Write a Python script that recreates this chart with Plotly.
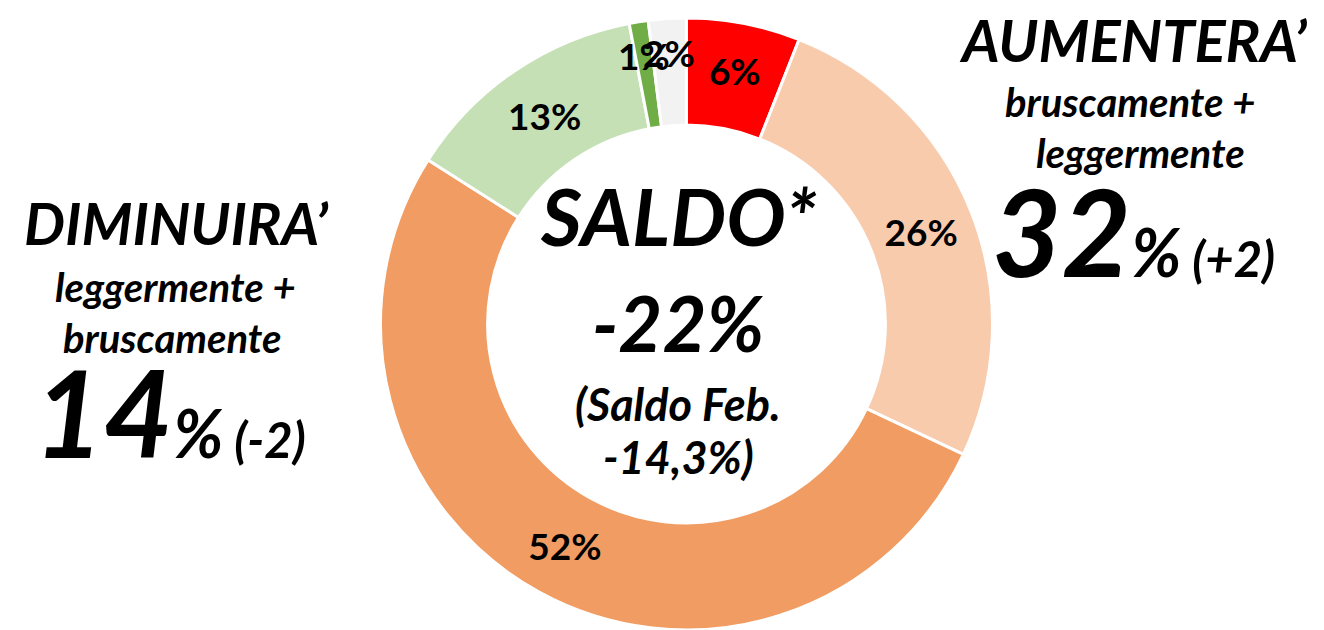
import math
import plotly.graph_objects as go

W, H = 1324, 630
MT, MB = 18, 0

categories = ["Aumenterà bruscamente", "Aumenterà leggermente", "Rimarrà stabile",
              "Diminuirà leggermente", "Diminuirà bruscamente", "Non sa"]
values = [6, 26, 52, 13, 1, 2]
slice_labels = ["6%", "26%", "52%", "13%", "1%", "2%"]
colors = ["#FF0000", "#F8CBAD", "#F19C62", "#C5E0B4", "#70AD47", "#F2F2F2"]

FONT = "Lato"
LABEL_SIZE = 37
SMALL = 3  # slices below this share get their label placed as annotation

def px(x):
    return x / W

def py(y):
    return (H - y) / (H - MT - MB)

cx = 686.5 / W
half = 0.30

inside_text = [t if v >= SMALL else "" for t, v in zip(slice_labels, values)]

fig = go.Figure()
fig.add_trace(go.Pie(
    labels=categories,
    values=values,
    text=inside_text,
    textinfo="text",
    textposition="inside",
    insidetextorientation="horizontal",
    sort=False,
    direction="clockwise",
    rotation=0,
    hole=0.65,
    marker=dict(colors=colors, line=dict(color="white", width=3)),
    textfont=dict(family=FONT, size=LABEL_SIZE, color="black", weight="bold"),
    domain=dict(x=[cx - half, cx + half], y=[0, 1]),
    showlegend=False,
))

# labels of the tiny slices, placed at each slice's mid-angle
plot_h = H - MT - MB
R = plot_h / 2
center_x, center_y = cx * W, MT + R  # pixels from top-left
total = sum(values)
cum = 0
for v, t in zip(values, slice_labels):
    mid = (cum + v / 2) / total * 2 * math.pi
    cum += v
    if v >= SMALL:
        continue
    r = 0.89 * R
    x = center_x + r * math.sin(mid)
    y = center_y - r * math.cos(mid)
    fig.add_annotation(
        x=px(x), y=py(y), xref="paper", yref="paper", text=t, showarrow=False,
        xanchor="center", yanchor="middle",
        font=dict(family=FONT, size=LABEL_SIZE, color="black", weight="bold"),
    )

def ann(x, y, text, size, anchor="center"):
    fig.add_annotation(
        x=px(x), y=py(y), xref="paper", yref="paper",
        text=text, showarrow=False, xanchor=anchor, yanchor="middle",
        font=dict(family=FONT, size=size, color="black", weight="bold", style="italic"),
    )

# centre
ann(678, 216, "SALDO*", 79)
ann(678, 322, "-22%", 76)
ann(678, 404, "(Saldo Feb.", 45)
ann(678, 457, "-14,3%)", 45)

# left block
ann(176, 222, "DIMINUIRA’", 58)
ann(175, 287, "leggermente +", 40)
ann(172, 338, "bruscamente", 40)
fig.add_annotation(
    x=px(32), y=py(486), xref="paper", yref="paper", xanchor="left", yanchor="bottom",
    showarrow=False,
    text="<span style='font-size:120px'>14</span><span style='font-size:66px'>%</span>"
         "<span style='font-size:49px'> (-2)</span>",
    font=dict(family=FONT, size=49, color="black", weight="bold", style="italic"),
)

# right block
ann(1133, 40, "AUMENTERA’", 58)
ann(1130, 102, "bruscamente +", 40)
ann(1140, 153, "leggermente", 40)
fig.add_annotation(
    x=px(990), y=py(305), xref="paper", yref="paper", xanchor="left", yanchor="bottom",
    showarrow=False,
    text="<span style='font-size:120px'>32</span><span style='font-size:66px'>%</span>"
         "<span style='font-size:49px'> (+2)</span>",
    font=dict(family=FONT, size=49, color="black", weight="bold", style="italic"),
)

fig.update_layout(
    width=W, height=H,
    margin=dict(l=0, r=0, t=MT, b=MB, pad=0),
    paper_bgcolor="white", plot_bgcolor="white",
)

fig.write_html("out.html", config={"displayModeBar": False},
               post_script="document.body.style.margin='0';")
